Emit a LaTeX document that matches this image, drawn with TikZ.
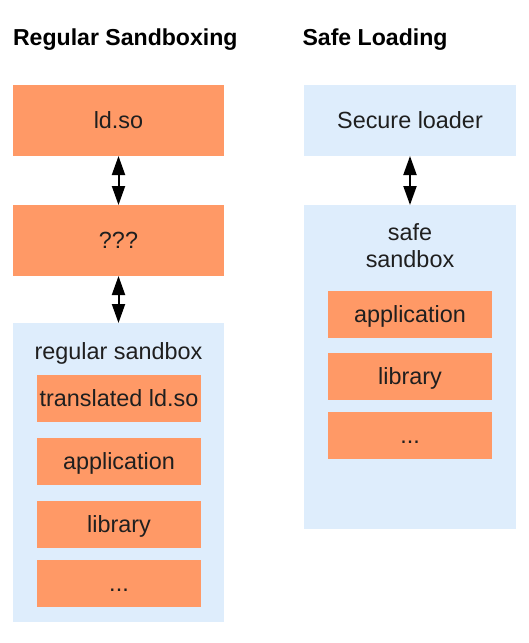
\documentclass[tikz,border=0pt]{standalone}
\usepackage{fontspec}
\setmainfont{Liberation Sans}
\usetikzlibrary{arrows.meta}
\definecolor{boxorange}{HTML}{FF9966}
\definecolor{boxblue}{HTML}{DEEDFC}
\definecolor{txt}{HTML}{1F1F1F}
\begin{document}
\begin{tikzpicture}[x=1pt,y=-1pt,
  every node/.style={inner sep=0pt, outer sep=0pt, font=\fontsize{23.4}{27}\selectfont, text=txt},
  obig/.style={fill=boxorange, minimum width=211pt, minimum height=71pt, text height=16.5pt, text depth=0pt},
  bbig/.style={fill=boxblue, minimum width=212pt, minimum height=71pt, text height=16.5pt, text depth=0pt},
  osmall/.style={fill=boxorange, minimum width=164pt, minimum height=47pt, text height=16.5pt, text depth=0pt},
  container/.style={fill=boxblue},
  lbl/.style={anchor=base},
  ttl/.style={anchor=base west, font=\bfseries\fontsize{23.1}{27}\selectfont, text=black},
  link/.style={{Triangle[length=19pt,width=13pt]}-{Triangle[length=19pt,width=13pt]}, line width=2pt, draw=black}
]
\useasboundingbox (0,0) rectangle (529,643);
% titles
\node[ttl] (t1) at (13,45.5) {Regular Sandboxing};
\node[ttl] (t2) at (302.5,45.5) {Safe Loading};
% left column
\node[obig] (ld) at (118.5,120.5) {ld.so};
\node[obig] (q) at (118.5,240.5) {???};
\node[container, minimum width=211pt, minimum height=299pt] (rs) at (118.5,472.5) {};
\node[lbl] (rsl) at (118.5,359) {regular sandbox};
\node[osmall] (tld) at (119,398.5) {translated ld.so};
\node[osmall] (app1) at (119,461.5) {application};
\node[osmall] (lib1) at (119,524) {library};
\node[osmall] (dots1) at (119,583.5) {...};
% right column
\node[bbig] (sl) at (410,120.5) {Secure loader};
\node[container, minimum width=212pt, minimum height=324pt] (ss) at (410,367) {};
\node[lbl] (ssl1) at (410,240) {safe};
\node[lbl] (ssl2) at (410,267) {sandbox};
\node[osmall] (app2) at (410,314.5) {application};
\node[osmall] (lib2) at (410,376.5) {library};
\node[osmall] (dots2) at (410,435.5) {...};
% connectors
\draw[link] (ld.south) -- (q.north);
\draw[link] (q.south) -- (rs.north);
\draw[link] (sl.south) -- (ss.north);
\end{tikzpicture}
\end{document}
